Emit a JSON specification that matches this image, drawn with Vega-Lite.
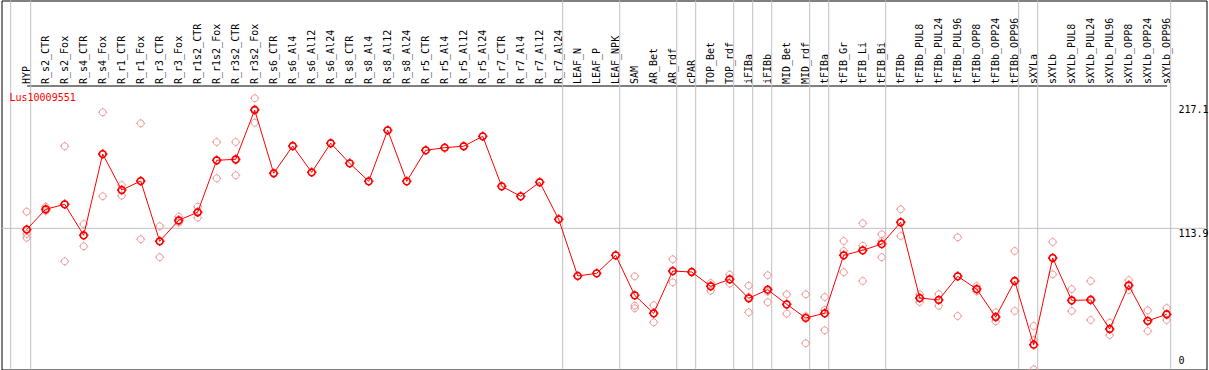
{
  "$schema": "https://vega.github.io/schema/vega-lite/v6.json",
  "autosize": {"type": "none"},
  "width": 1205,
  "height": 369,
  "padding": {"left": 1.5, "top": 0.5, "right": 2.5, "bottom": 0.5},
  "background": "white",
  "title": {"text": "Lus10009551", "orient": "top", "anchor": "start", "frame": "group", "offset": 0, "dx": 8, "dy": 103, "baseline": "top", "color": "#FF0000", "font": "DejaVu Sans Mono", "fontSize": 10, "fontWeight": "normal"},
  "config": {
    "view": {"stroke": "black", "strokeWidth": 1},
    "axis": {"labelFont": "DejaVu Sans Mono", "labelFontSize": 10, "labelColor": "black", "title": null}
  },
  "datasets": {
    "means": [
      {"cat": "HYP", "value": 112.9}, {"cat": "R_s2_CTR", "value": 129.8}, {"cat": "R_s2_Fox", "value": 133.9},
      {"cat": "R_s4_CTR", "value": 108.1}, {"cat": "R_s4_Fox", "value": 175.8}, {"cat": "R_r1_CTR", "value": 145.8},
      {"cat": "R_r1_Fox", "value": 153.3}, {"cat": "R_r3_CTR", "value": 103.1}, {"cat": "R_r3_Fox", "value": 120.6},
      {"cat": "R_r1s2_CTR", "value": 127.3}, {"cat": "R_r1s2_Fox", "value": 170.6}, {"cat": "R_r3s2_CTR", "value": 171.4},
      {"cat": "R_r3s2_Fox", "value": 212.5}, {"cat": "R_s6_CTR", "value": 159.8}, {"cat": "R_s6_Al4", "value": 182.5},
      {"cat": "R_s6_Al12", "value": 160.6}, {"cat": "R_s6_Al24", "value": 184.8}, {"cat": "R_s8_CTR", "value": 168.1},
      {"cat": "R_s8_Al4", "value": 153.1}, {"cat": "R_s8_Al12", "value": 195.6}, {"cat": "R_s8_Al24", "value": 153.1},
      {"cat": "R_r5_CTR", "value": 178.9}, {"cat": "R_r5_Al4", "value": 181.1}, {"cat": "R_r5_Al12", "value": 182.3},
      {"cat": "R_r5_Al24", "value": 190.6}, {"cat": "R_r7_CTR", "value": 148.9}, {"cat": "R_r7_Al4", "value": 140.6},
      {"cat": "R_r7_Al12", "value": 152.3}, {"cat": "R_r7_Al24", "value": 121.4}, {"cat": "LEAF_N", "value": 74.2},
      {"cat": "LEAF_P", "value": 76.4}, {"cat": "LEAF_NPK", "value": 91.4}, {"cat": "SAM", "value": 58.1},
      {"cat": "AR_Bet", "value": 43.1}, {"cat": "AR_rdf", "value": 78.3}, {"cat": "cPAR", "value": 77.5},
      {"cat": "TOP_Bet", "value": 65.6}, {"cat": "TOP_rdf", "value": 71.4}, {"cat": "iFIBa", "value": 55.6},
      {"cat": "iFIBb", "value": 62.8}, {"cat": "MID_Bet", "value": 50.6}, {"cat": "MID_rdf", "value": 39.2},
      {"cat": "tFIBa", "value": 43.1}, {"cat": "tFIB_Gr", "value": 91.4}, {"cat": "tFIB_Li", "value": 95.6},
      {"cat": "tFIB_Bi", "value": 100.8}, {"cat": "tFIBb", "value": 118.9}, {"cat": "tFIBb_PUL8", "value": 55.8},
      {"cat": "tFIBb_PUL24", "value": 54.2}, {"cat": "tFIBb_PUL96", "value": 73.9}, {"cat": "tFIBb_OPP8", "value": 63.3},
      {"cat": "tFIBb_OPP24", "value": 40.0}, {"cat": "tFIBb_OPP96", "value": 70.0}, {"cat": "sXYLa", "value": 16.9},
      {"cat": "sXYLb", "value": 89.2}, {"cat": "sXYLb_PUL8", "value": 53.9}, {"cat": "sXYLb_PUL24", "value": 54.2},
      {"cat": "sXYLb_PUL96", "value": 30.0}, {"cat": "sXYLb_OPP8", "value": 66.4}, {"cat": "sXYLb_OPP24", "value": 36.7},
      {"cat": "sXYLb_OPP96", "value": 42.3}
    ],
    "reps": [
      {"cat": "HYP", "value": 127.8}, {"cat": "HYP", "value": 109.2}, {"cat": "HYP", "value": 106.1},
      {"cat": "R_s2_CTR", "value": 131.9}, {"cat": "R_s2_CTR", "value": 129.2}, {"cat": "R_s2_CTR", "value": 128.3},
      {"cat": "R_s2_Fox", "value": 182.3}, {"cat": "R_s2_Fox", "value": 86.4}, {"cat": "R_s2_Fox", "value": 133.9},
      {"cat": "R_s4_CTR", "value": 117.5}, {"cat": "R_s4_CTR", "value": 98.9}, {"cat": "R_s4_CTR", "value": 107.9},
      {"cat": "R_s4_Fox", "value": 210.6}, {"cat": "R_s4_Fox", "value": 140.6}, {"cat": "R_s4_Fox", "value": 175.8},
      {"cat": "R_r1_CTR", "value": 150.0}, {"cat": "R_r1_CTR", "value": 141.1}, {"cat": "R_r1_CTR", "value": 146.0},
      {"cat": "R_r1_Fox", "value": 201.4}, {"cat": "R_r1_Fox", "value": 104.8}, {"cat": "R_r1_Fox", "value": 153.3},
      {"cat": "R_r3_CTR", "value": 115.6}, {"cat": "R_r3_CTR", "value": 89.8}, {"cat": "R_r3_CTR", "value": 103.3},
      {"cat": "R_r3_Fox", "value": 123.6}, {"cat": "R_r3_Fox", "value": 118.6}, {"cat": "R_r3_Fox", "value": 119.6},
      {"cat": "R_r1s2_CTR", "value": 131.9}, {"cat": "R_r1s2_CTR", "value": 122.8}, {"cat": "R_r1s2_CTR", "value": 127.1},
      {"cat": "R_r1s2_Fox", "value": 185.8}, {"cat": "R_r1s2_Fox", "value": 155.6}, {"cat": "R_r1s2_Fox", "value": 170.4},
      {"cat": "R_r3s2_CTR", "value": 185.8}, {"cat": "R_r3s2_CTR", "value": 158.1}, {"cat": "R_r3s2_CTR", "value": 170.4},
      {"cat": "R_r3s2_Fox", "value": 222.3}, {"cat": "R_r3s2_Fox", "value": 201.9}, {"cat": "R_r3s2_Fox", "value": 213.3},
      {"cat": "SAM", "value": 73.9}, {"cat": "SAM", "value": 49.4}, {"cat": "SAM", "value": 47.3},
      {"cat": "AR_Bet", "value": 49.8}, {"cat": "AR_Bet", "value": 35.6}, {"cat": "AR_Bet", "value": 43.1},
      {"cat": "AR_rdf", "value": 88.1}, {"cat": "AR_rdf", "value": 68.9}, {"cat": "AR_rdf", "value": 78.3},
      {"cat": "TOP_Bet", "value": 68.3}, {"cat": "TOP_Bet", "value": 61.9}, {"cat": "TOP_Bet", "value": 66.3},
      {"cat": "TOP_rdf", "value": 75.3}, {"cat": "TOP_rdf", "value": 67.8}, {"cat": "TOP_rdf", "value": 71.3},
      {"cat": "iFIBa", "value": 66.1}, {"cat": "iFIBa", "value": 43.9}, {"cat": "iFIBa", "value": 56.7},
      {"cat": "iFIBb", "value": 74.8}, {"cat": "iFIBb", "value": 52.3}, {"cat": "iFIBb", "value": 61.3},
      {"cat": "MID_Bet", "value": 58.9}, {"cat": "MID_Bet", "value": 42.8}, {"cat": "MID_Bet", "value": 50.0},
      {"cat": "MID_rdf", "value": 58.9}, {"cat": "MID_rdf", "value": 18.1}, {"cat": "MID_rdf", "value": 40.8},
      {"cat": "tFIBa", "value": 56.7}, {"cat": "tFIBa", "value": 28.9}, {"cat": "tFIBa", "value": 45.8},
      {"cat": "tFIB_Gr", "value": 103.3}, {"cat": "tFIB_Gr", "value": 95.0}, {"cat": "tFIB_Gr", "value": 77.3},
      {"cat": "tFIB_Li", "value": 118.1}, {"cat": "tFIB_Li", "value": 99.4}, {"cat": "tFIB_Li", "value": 70.0},
      {"cat": "tFIB_Bi", "value": 108.9}, {"cat": "tFIB_Bi", "value": 89.8}, {"cat": "tFIB_Bi", "value": 103.3},
      {"cat": "tFIBb", "value": 129.8}, {"cat": "tFIBb", "value": 107.5}, {"cat": "tFIBb", "value": 119.2},
      {"cat": "tFIBb_PUL8", "value": 58.9}, {"cat": "tFIBb_PUL8", "value": 52.5}, {"cat": "tFIBb_PUL8", "value": 55.8},
      {"cat": "tFIBb_PUL24", "value": 58.9}, {"cat": "tFIBb_PUL24", "value": 49.4}, {"cat": "tFIBb_PUL24", "value": 54.2},
      {"cat": "tFIBb_PUL96", "value": 106.4}, {"cat": "tFIBb_PUL96", "value": 40.8}, {"cat": "tFIBb_PUL96", "value": 74.2},
      {"cat": "tFIBb_OPP8", "value": 65.8}, {"cat": "tFIBb_OPP8", "value": 61.4}, {"cat": "tFIBb_OPP8", "value": 62.9},
      {"cat": "tFIBb_OPP24", "value": 43.9}, {"cat": "tFIBb_OPP24", "value": 36.4}, {"cat": "tFIBb_OPP24", "value": 40.0},
      {"cat": "tFIBb_OPP96", "value": 95.0}, {"cat": "tFIBb_OPP96", "value": 45.0}, {"cat": "tFIBb_OPP96", "value": 70.0},
      {"cat": "sXYLa", "value": 32.5}, {"cat": "sXYLa", "value": 20.8}, {"cat": "sXYLa", "value": -3.6},
      {"cat": "sXYLb", "value": 102.5}, {"cat": "sXYLb", "value": 75.6}, {"cat": "sXYLb", "value": 89.2},
      {"cat": "sXYLb_PUL8", "value": 63.3}, {"cat": "sXYLb_PUL8", "value": 45.0}, {"cat": "sXYLb_PUL8", "value": 53.3},
      {"cat": "sXYLb_PUL24", "value": 70.0}, {"cat": "sXYLb_PUL24", "value": 37.5}, {"cat": "sXYLb_PUL24", "value": 55.0},
      {"cat": "sXYLb_PUL96", "value": 35.3}, {"cat": "sXYLb_PUL96", "value": 25.0}, {"cat": "sXYLb_PUL96", "value": 30.0},
      {"cat": "sXYLb_OPP8", "value": 70.8}, {"cat": "sXYLb_OPP8", "value": 62.5}, {"cat": "sXYLb_OPP8", "value": 65.8},
      {"cat": "sXYLb_OPP24", "value": 45.6}, {"cat": "sXYLb_OPP24", "value": 28.3}, {"cat": "sXYLb_OPP24", "value": 36.7},
      {"cat": "sXYLb_OPP96", "value": 47.5}, {"cat": "sXYLb_OPP96", "value": 37.5}, {"cat": "sXYLb_OPP96", "value": 41.7}
    ],
    "seps": [
      {"cat": "HYP"}, {"cat": "R_r7_Al24"}, {"cat": "LEAF_NPK"}, {"cat": "AR_rdf"}, {"cat": "cPAR"},
      {"cat": "TOP_rdf"}, {"cat": "iFIBa"}, {"cat": "iFIBb"}, {"cat": "MID_rdf"}, {"cat": "tFIBa"},
      {"cat": "tFIB_Bi"}, {"cat": "tFIBb_OPP96"}, {"cat": "sXYLa"}, {"cat": "sXYLb_OPP96"}
    ],
    "start": [{"cat": "HYP"}],
    "ticks": [{"level": 0}, {"level": 113.9}, {"level": 217.1}]
  },
  "layer": [
    {
      "data": {"name": "ticks"},
      "mark": {"type": "rule", "color": "#C0C0C0", "strokeWidth": 1},
      "encoding": {
        "y": {"field": "level", "type": "quantitative", "title": null,
          "scale": {"domain": [-3.75, 303.75], "nice": false, "zero": false},
          "axis": {"orient": "right", "offset": -28.5, "values": [0, 113.9, 217.1], "labelExpr": "'' + datum.value", "ticks": false, "tickSize": 0, "domain": false, "grid": false, "labelPadding": 0, "labelAlign": "left", "labelBaseline": {"condition": {"test": "datum.value === 0", "value": "bottom"}, "value": "top"}, "labelFlush": false, "labelOverlap": false}},
        "opacity": {"condition": {"test": "datum.level === 113.9", "value": 1}, "value": 0}
      }
    },
    {
      "data": {"name": "start"},
      "mark": {"type": "rule", "color": "#C0C0C0", "strokeWidth": 1, "xOffset": -16},
      "encoding": {
        "x": {"field": "cat", "type": "nominal", "title": null,
          "scale": {"type": "point", "padding": 0, "range": [25.2, 1165.2], "domain": ["HYP","R_s2_CTR","R_s2_Fox","R_s4_CTR","R_s4_Fox","R_r1_CTR","R_r1_Fox","R_r3_CTR","R_r3_Fox","R_r1s2_CTR","R_r1s2_Fox","R_r3s2_CTR","R_r3s2_Fox","R_s6_CTR","R_s6_Al4","R_s6_Al12","R_s6_Al24","R_s8_CTR","R_s8_Al4","R_s8_Al12","R_s8_Al24","R_r5_CTR","R_r5_Al4","R_r5_Al12","R_r5_Al24","R_r7_CTR","R_r7_Al4","R_r7_Al12","R_r7_Al24","LEAF_N","LEAF_P","LEAF_NPK","SAM","AR_Bet","AR_rdf","cPAR","TOP_Bet","TOP_rdf","iFIBa","iFIBb","MID_Bet","MID_rdf","tFIBa","tFIB_Gr","tFIB_Li","tFIB_Bi","tFIBb","tFIBb_PUL8","tFIBb_PUL24","tFIBb_PUL96","tFIBb_OPP8","tFIBb_OPP24","tFIBb_OPP96","sXYLa","sXYLb","sXYLb_PUL8","sXYLb_PUL24","sXYLb_PUL96","sXYLb_OPP8","sXYLb_OPP24","sXYLb_OPP96"]},
          "axis": {"orient": "top", "offset": -85, "labelAngle": -90, "labelAlign": "left", "labelBaseline": "middle", "labelPadding": 2, "ticks": false, "tickSize": 0, "domain": true, "domainColor": "black", "domainWidth": 1, "grid": false, "labelOverlap": false, "labelFlush": false, "labelBound": false}}
      }
    },
    {
      "data": {"name": "seps"},
      "mark": {"type": "rule", "color": "#C0C0C0", "strokeWidth": 1, "xOffset": 4},
      "encoding": {
        "x": {"field": "cat", "type": "nominal", "title": null}
      }
    },
    {
      "data": {"name": "reps"},
      "mark": {"type": "point", "shape": "M1,0L0.924,0.383L0.707,0.707L0.383,0.924L0,1L-0.383,0.924L-0.707,0.707L-0.924,0.383L-1,0L-0.924,-0.383L-0.707,-0.707L-0.383,-0.924L0,-1L0.383,-0.924L0.707,-0.707L0.924,-0.383ZM0,-1L0,-1.35M0,1L0,1.35M-1,0L-1.35,0M1,0L1.35,0", "filled": false, "stroke": "#F09A9A", "strokeWidth": 1, "size": 46, "opacity": 1},
      "encoding": {
        "x": {"field": "cat", "type": "nominal", "title": null},
        "y": {"field": "value", "type": "quantitative", "title": null}
      }
    },
    {
      "data": {"name": "means"},
      "mark": {"type": "line", "color": "#FF0000", "strokeWidth": 1},
      "encoding": {
        "x": {"field": "cat", "type": "nominal", "title": null},
        "y": {"field": "value", "type": "quantitative", "title": null}
      }
    },
    {
      "data": {"name": "means"},
      "mark": {"type": "point", "shape": "M1,0L0.924,0.383L0.707,0.707L0.383,0.924L0,1L-0.383,0.924L-0.707,0.707L-0.924,0.383L-1,0L-0.924,-0.383L-0.707,-0.707L-0.383,-0.924L0,-1L0.383,-0.924L0.707,-0.707L0.924,-0.383ZM0,-1L0,-1.4M0,1L0,1.4M-1,0L-1.4,0M1,0L1.4,0", "filled": false, "stroke": "#FF0000", "strokeWidth": 1.6, "size": 46, "opacity": 1},
      "encoding": {
        "x": {"field": "cat", "type": "nominal", "title": null},
        "y": {"field": "value", "type": "quantitative", "title": null}
      }
    }
  ]
}
